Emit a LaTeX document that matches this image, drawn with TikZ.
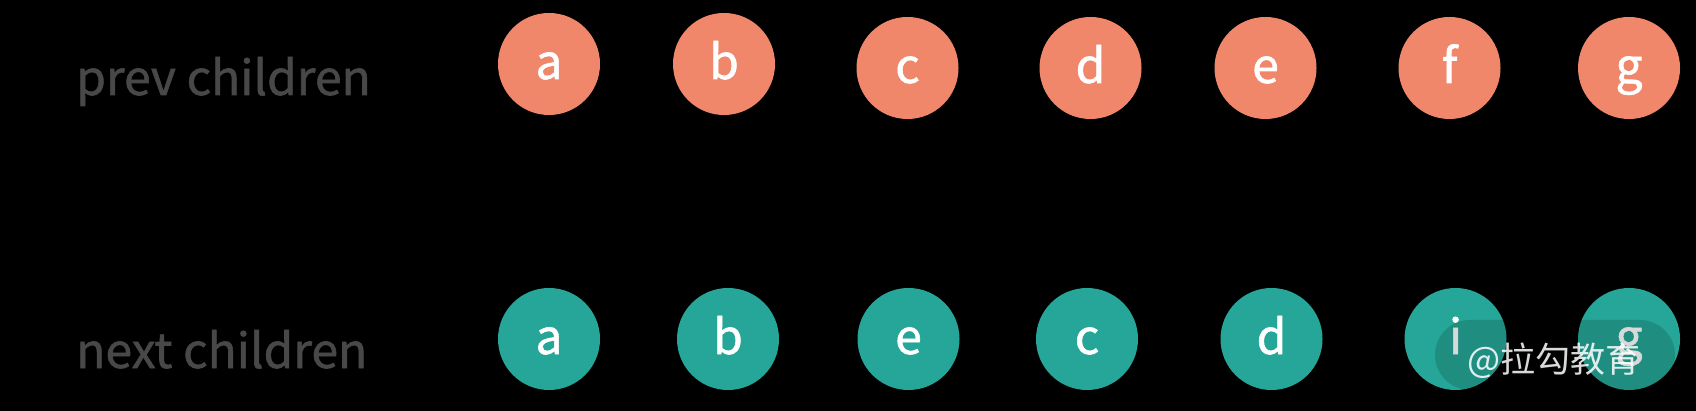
\documentclass[tikz,border=0pt]{standalone}
\usepackage{fontspec}
\setmainfont{Noto Sans CJK SC}
\newfontfamily\heavier{Noto Sans CJK SC}[FakeBold=1.2]
\usepackage{tikz}
\definecolor{prevc}{RGB}{240, 134, 106}
\definecolor{nextc}{RGB}{38, 166, 152}
\definecolor{labelc}{RGB}{72, 72, 72}
\usetikzlibrary{positioning}

\begin{document}
\begin{tikzpicture}[x=1pt, y=-1pt,
  every node/.style={inner sep=0pt},
  child/.style={circle, minimum size=102pt, text=white, text height=40pt, text depth=10pt, font=\heavier\fontsize{48}{48}\selectfont},
  prev/.style={child, fill=prevc},
  next/.style={child, fill=nextc},
  rowlabel/.style={anchor=base west, text=labelc, font=\heavier\fontsize{48}{48}\selectfont}]
\fill [black] (0,0) rectangle (1696,411);
\useasboundingbox (0,0) rectangle (1696,411);
% prev children
\node (plabel) [rowlabel] at (76, 95) {prev children};
\node (p1) [prev] at (549, 64) {a};
\node (p2) [prev] at (724, 64) {b};
\node (p3) [prev] at (907.5, 68) {c};
\node (p4) [prev] at (1090.5, 68) {d};
\node (p5) [prev] at (1265.5, 68) {e};
\node (p6) [prev] at (1449.5, 68) {f};
\node (p7) [prev] at (1629, 68) {g};
% next children
\node (nlabel) [rowlabel] at (76, 368) {next children};
\node (n1) [next] at (549, 339) {a};
\node (n2) [next] at (728, 339) {b};
\node (n3) [next] at (908.5, 339) {e};
\node (n4) [next] at (1087, 339) {c};
\node (n5) [next] at (1271.5, 339) {d};
\node (n6) [next] at (1455.5, 339) {i};
\node (n7) [next] at (1629, 339) {g};
% watermark
\node (mark) [fill=black, fill opacity=0.15, rounded corners=35pt, minimum width=240pt, minimum height=70pt] at (1555, 355) {};
\node (marktext) [anchor=base, text=white, text opacity=0.85, font=\fontsize{35}{35}\selectfont] at (1554, 372) {@拉勾教育};
\end{tikzpicture}
\end{document}
